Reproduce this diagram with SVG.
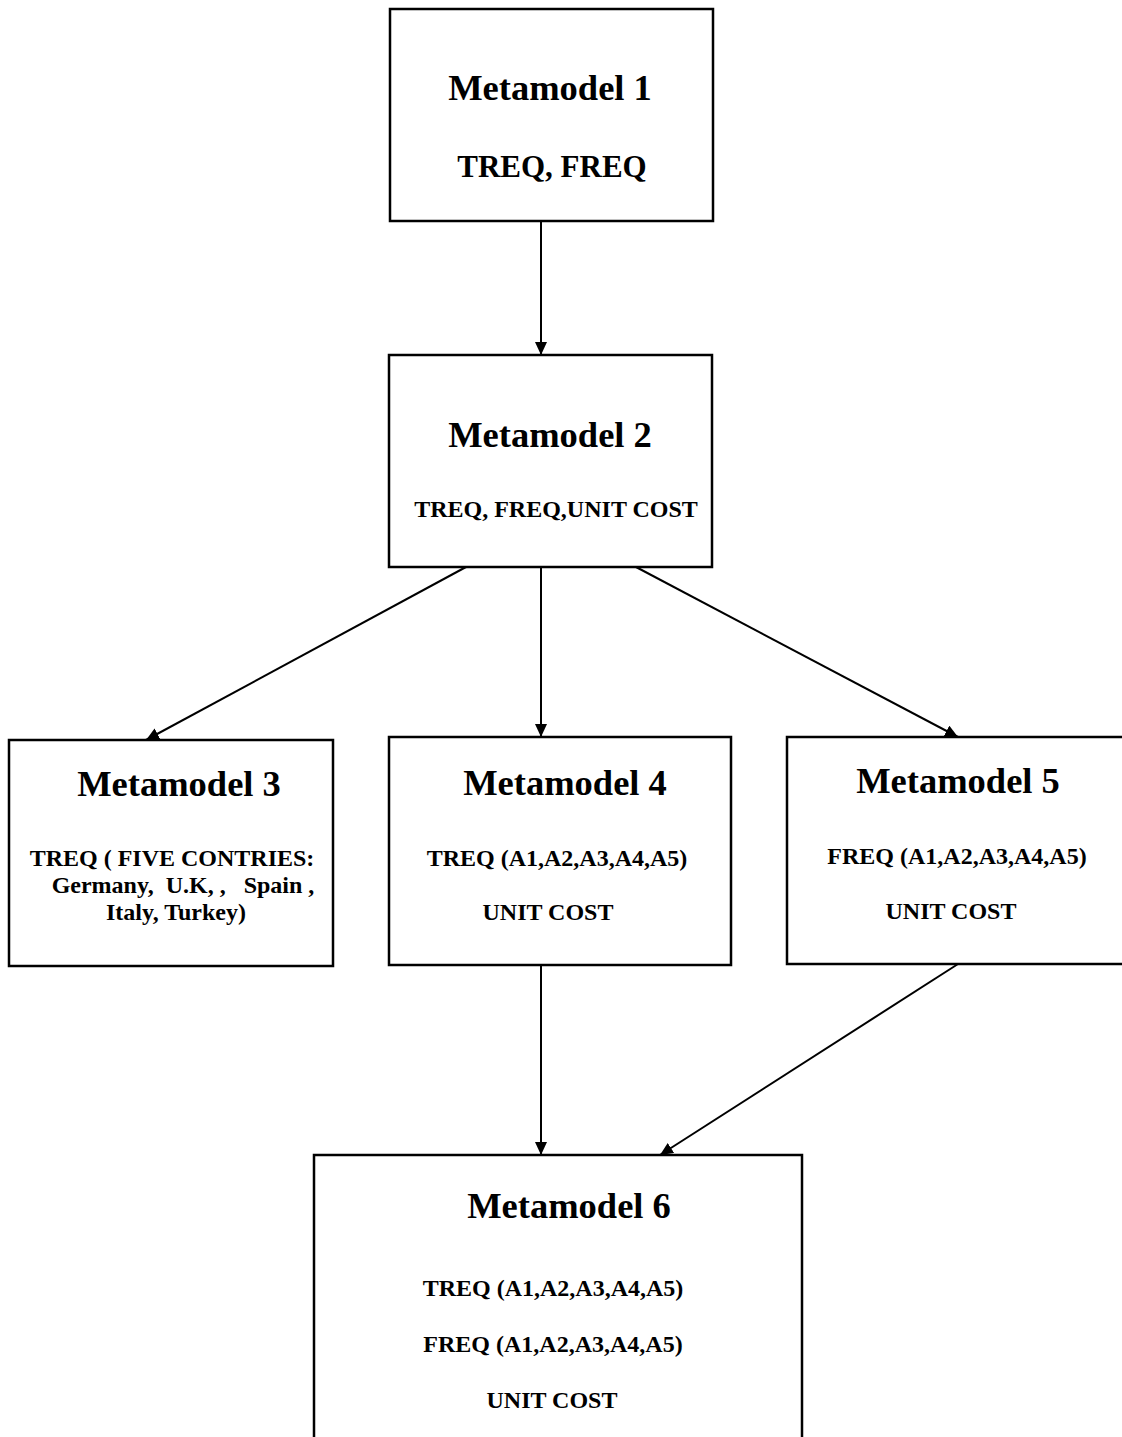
<svg xmlns="http://www.w3.org/2000/svg" width="1122" height="1437" viewBox="0 0 1122 1437">
<style>
.box{fill:#fff;stroke:#000;stroke-width:2.5}
.t{font-family:"Liberation Serif","Times New Roman",serif;font-weight:bold;fill:#000;text-anchor:middle}
.h{font-size:36.5px}
.m{font-size:31px}
.s{font-size:24px}
.c{stroke:#000;stroke-width:2;fill:none;marker-end:url(#ah)}
</style>
<defs>
<marker id="ah" markerUnits="userSpaceOnUse" markerWidth="14" markerHeight="14" refX="13" refY="6" orient="auto">
<path d="M0,0 L13,6 L0,12 Z" fill="#000"/>
</marker>
</defs>
<rect width="1122" height="1437" fill="#fff"/>
<g id="connectors">
<line class="c" x1="541" y1="221" x2="541" y2="355"/>
<line class="c" x1="466" y1="567" x2="146" y2="740"/>
<line class="c" x1="541" y1="567" x2="541" y2="737"/>
<line class="c" x1="636" y1="567" x2="958" y2="737"/>
<line class="c" x1="541" y1="965" x2="541" y2="1155"/>
<line class="c" x1="958" y1="964" x2="660" y2="1155"/>
</g>
<g id="node1">
<rect class="box" x="390" y="9" width="323" height="212"/>
<text class="t h" x="550" y="100">Metamodel 1</text>
<text class="t m" x="552" y="177">TREQ, FREQ</text>
</g>
<g id="node2">
<rect class="box" x="389" y="355" width="323" height="212"/>
<text class="t h" x="550" y="447">Metamodel 2</text>
<text class="t s" x="556" y="517">TREQ, FREQ,UNIT COST</text>
</g>
<g id="node3">
<rect class="box" x="9" y="740" width="324" height="226"/>
<text class="t h" x="179" y="796">Metamodel 3</text>
<text class="t s" x="172" y="866">TREQ ( FIVE CONTRIES:</text>
<text class="t s" x="183" y="893" xml:space="preserve">Germany,  U.K, ,   Spain ,</text>
<text class="t s" x="176" y="920">Italy, Turkey)</text>
</g>
<g id="node4">
<rect class="box" x="389" y="737" width="342" height="228"/>
<text class="t h" x="565" y="795">Metamodel 4</text>
<text class="t s" x="557" y="866">TREQ (A1,A2,A3,A4,A5)</text>
<text class="t s" x="548" y="920">UNIT COST</text>
</g>
<g id="node5">
<rect class="box" x="787" y="737" width="345" height="227"/>
<text class="t h" x="958" y="793">Metamodel 5</text>
<text class="t s" x="957" y="864">FREQ (A1,A2,A3,A4,A5)</text>
<text class="t s" x="951" y="919">UNIT COST</text>
</g>
<g id="node6">
<rect class="box" x="314" y="1155" width="488" height="300"/>
<text class="t h" x="569" y="1218">Metamodel 6</text>
<text class="t s" x="553" y="1296">TREQ (A1,A2,A3,A4,A5)</text>
<text class="t s" x="553" y="1352">FREQ (A1,A2,A3,A4,A5)</text>
<text class="t s" x="552" y="1408">UNIT COST</text>
</g>
</svg>
